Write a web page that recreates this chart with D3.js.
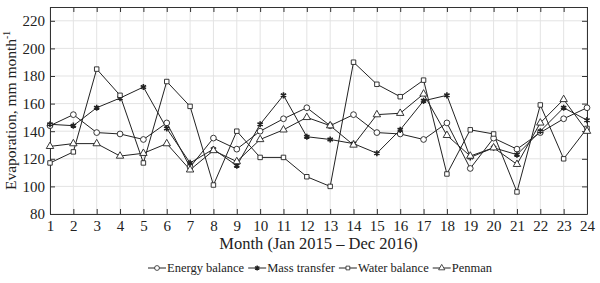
<!DOCTYPE html>
<html>
<head>
<meta charset="utf-8">
<script src="https://cdn.jsdelivr.net/npm/d3@7"></script>
<style>
  body { margin: 0; background: #fff; }
</style>
</head>
<body>
<div id="chart"></div>
<script>
const width = 600;
const height = 283;
const margin = {top: 7, left: 50, bottom: 69, right: 13};
const serif = 'Liberation Serif, Times New Roman, Times, DejaVu Serif, serif';

// 월 (1..24)
const months = [1,2,3,4,5,6,7,8,9,10,11,12,13,14,15,16,17,18,19,20,21,22,23,24];
const yTicks = [80, 100, 120, 140, 160, 180, 200, 220];

const energyBalance = [144, 152, 139, 138, 134, 146, 114, 135, 127, 140, 149, 157,
                       144, 152, 139, 138, 134, 146, 113, 135, 127, 139, 149, 157];
const massTransfer  = [145, 144, 157, 164, 172, 142, 117, 127, 115, 145, 166, 136,
                       134, 131, 124, 141, 162, 166, 121, 128, 123, 140, 157, 148];
const waterBalance  = [117, 125, 185, 166, 117, 176, 158, 101, 140, 121, 121, 107,
                       100, 190, 174, 165, 177, 109, 141, 138, 96, 159, 120, 142];
const penman        = [129, 131, 131, 122, 124, 131, 112, 126, 118, 134, 141, 150,
                       144, 130, 152, 153, 167, 137, 122, 128, 116, 146, 163, 140];

const seriesNames = ['Energy balance', 'Mass transfer', 'Water balance', 'Penman'];
const series = [
  {name: seriesNames[0], values: energyBalance, symbol: d3.symbolCircle, size: 26, fill: '#fff'},
  {name: seriesNames[1], values: massTransfer, symbol: d3.symbolAsterisk, size: 26, fill: 'none'},
  {name: seriesNames[2], values: waterBalance, symbol: d3.symbolSquare, size: 20, fill: '#fff'},
  {name: seriesNames[3], values: penman, symbol: d3.symbolTriangle, size: 24, fill: '#fff'}
];

const x = d3.scaleLinear()
  .domain([1, 24])
  .range([margin.left, width - margin.right]);

const y = d3.scaleLinear()
  .domain([80, 230])
  .range([height - margin.bottom, margin.top]);

const svg = d3.select('#chart').append('svg')
  .attr('width', width)
  .attr('height', height)
  .attr('font-family', serif);

// 그리드
svg.append('g')
  .selectAll('line').data(months).enter().append('line')
  .attr('x1', d => x(d)).attr('x2', d => x(d))
  .attr('y1', y(230)).attr('y2', y(80))
  .attr('stroke', '#e3e3e3').attr('stroke-width', 1);
svg.append('g')
  .selectAll('line').data(yTicks).enter().append('line')
  .attr('x1', x(1)).attr('x2', x(24))
  .attr('y1', d => y(d)).attr('y2', d => y(d))
  .attr('stroke', '#e3e3e3').attr('stroke-width', 1);

const styleAxis = g => g
  .attr('font-family', serif)
  .attr('font-size', 15)
  .call(g => g.select('.domain').attr('stroke', '#333'))
  .call(g => g.selectAll('.tick line').attr('stroke', '#333'))
  .call(g => g.selectAll('text').attr('fill', '#222'));

svg.append('g')
  .attr('transform', `translate(0, ${y(80)})`)
  .call(d3.axisBottom(x).tickValues(months).tickFormat(d3.format('d')).tickSize(-5).tickSizeOuter(0).tickPadding(6))
  .call(styleAxis);

svg.append('g')
  .attr('transform', `translate(0, ${y(230)})`)
  .call(d3.axisTop(x).tickValues(months).tickFormat('').tickSize(-5).tickSizeOuter(0))
  .call(styleAxis);

svg.append('g')
  .attr('transform', `translate(${x(1)}, 0)`)
  .call(d3.axisLeft(y).tickValues(yTicks).tickSize(-5).tickSizeOuter(0).tickPadding(5))
  .call(styleAxis);

svg.append('g')
  .attr('transform', `translate(${x(24)}, 0)`)
  .call(d3.axisRight(y).tickValues(yTicks).tickFormat('').tickSize(-5).tickSizeOuter(0))
  .call(styleAxis);

// 선과 마커
const line = d3.line()
  .x((d, i) => x(months[i]))
  .y(d => y(d));

series.forEach(s => {
  svg.append('path')
    .datum(s.values)
    .attr('d', line)
    .attr('fill', 'none')
    .attr('stroke', '#222')
    .attr('stroke-width', 1);
});

series.forEach(s => {
  svg.append('g')
    .selectAll('path').data(s.values).enter().append('path')
    .attr('transform', (d, i) => `translate(${x(months[i])}, ${y(d)})`)
    .attr('d', d3.symbol().type(s.symbol).size(s.size))
    .attr('fill', s.fill)
    .attr('stroke', '#222')
    .attr('stroke-width', s.symbol === d3.symbolAsterisk ? 1.6 : 0.9);
});

// 축 제목
svg.append('text')
  .attr('x', (x(1) + x(24)) / 2)
  .attr('y', 249)
  .attr('text-anchor', 'middle')
  .attr('font-family', serif)
  .attr('font-size', 16.5)
  .attr('fill', '#222')
  .text('Month (Jan 2015 \u2013 Dec 2016)');

const yTitle = svg.append('text')
  .attr('transform', `translate(16, ${(y(80) + y(230)) / 2}) rotate(-90)`)
  .attr('text-anchor', 'middle')
  .attr('font-family', serif)
  .attr('font-size', 15.5)
  .attr('fill', '#222');
yTitle.append('tspan').text('Evaporation, mm month');
yTitle.append('tspan').attr('dy', -6).attr('font-size', 9.5).text('-1');

// 범례
const legend = svg.append('g');
let cursor = 0;
series.forEach((s, i) => {
  const item = legend.append('g').attr('transform', `translate(${cursor}, 0)`);
  item.append('line').attr('x1', 0).attr('x2', 18).attr('y1', 0).attr('y2', 0)
    .attr('stroke', '#222').attr('stroke-width', 1);
  item.append('path').attr('transform', 'translate(9, 0)')
    .attr('d', d3.symbol().type(s.symbol).size(s.size * 0.7))
    .attr('fill', s.fill).attr('stroke', '#222')
    .attr('stroke-width', s.symbol === d3.symbolAsterisk ? 1.4 : 0.8);
  const t = item.append('text').attr('x', 19).attr('y', 4)
    .attr('font-family', serif)
    .attr('font-size', 12.5).attr('fill', '#222').text(s.name);
  cursor += 19 + t.node().getComputedTextLength() + 4;
});
legend.attr('transform', `translate(${320 - (cursor - 4) / 2}, 268)`);
</script>
</body>
</html>
